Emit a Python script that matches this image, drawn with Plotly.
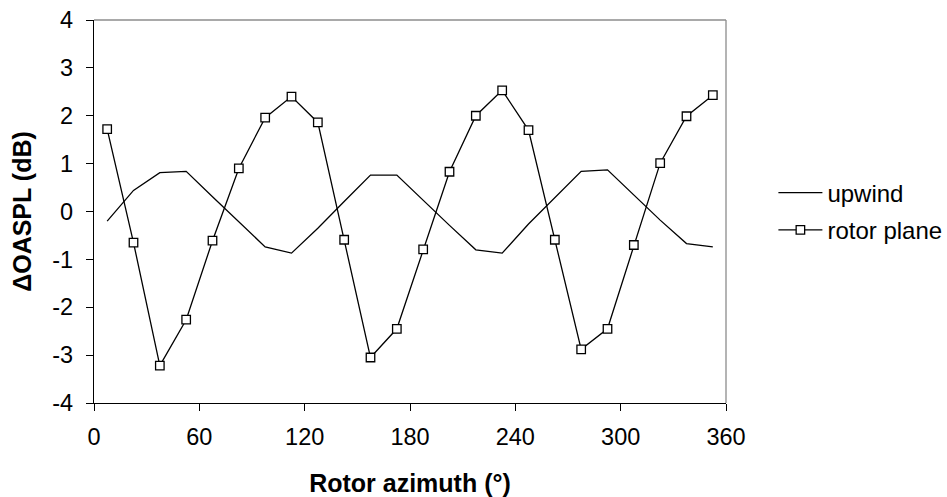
import plotly.graph_objects as go

# Rotor azimuth of each measurement bin (degrees)
azimuth = [7.5, 22.5, 37.5, 52.5, 67.5, 82.5, 97.5, 112.5, 127.5, 142.5, 157.5, 172.5,
           187.5, 202.5, 217.5, 232.5, 247.5, 262.5, 277.5, 292.5, 307.5, 322.5, 337.5, 352.5]

# Change in overall sound pressure level (dB)
upwind = [-0.20, 0.44, 0.81, 0.84, 0.31, -0.22, -0.74, -0.87, -0.35, 0.21, 0.76, 0.76,
          0.23, -0.29, -0.80, -0.87, -0.26, 0.30, 0.84, 0.87, 0.34, -0.18, -0.67, -0.74]
rotor_plane = [1.72, -0.65, -3.22, -2.26, -0.61, 0.90, 1.96, 2.40, 1.86, -0.59, -3.05, -2.45,
               -0.79, 0.83, 2.00, 2.53, 1.70, -0.59, -2.88, -2.45, -0.70, 1.01, 1.99, 2.43]

x_ticks = [0, 60, 120, 180, 240, 300, 360]
y_ticks = [-4, -3, -2, -1, 0, 1, 2, 3, 4]

FONT = "Liberation Sans, Arial, sans-serif"

fig = go.Figure()
fig.add_trace(go.Scatter(
    x=azimuth, y=upwind, name="upwind", mode="lines",
    line=dict(color="black", width=1.3), legendgroup="a",
))
fig.add_trace(go.Scatter(
    x=azimuth, y=rotor_plane, name="rotor plane", mode="lines+markers",
    line=dict(color="black", width=1.3),
    marker=dict(symbol="square", size=8.5, color="white",
                line=dict(color="black", width=1.3)),
    legendgroup="b",
))

axis_common = dict(
    showgrid=False, zeroline=False, showline=True, linecolor="black", linewidth=1.3,
    ticks="outside", ticklen=7, tickwidth=1.3, tickcolor="black",
    tickfont=dict(family=FONT, size=23.5, color="black"),
)

fig.update_xaxes(
    range=[0, 360], tickvals=x_ticks, ticktext=[str(v) for v in x_ticks],
    ticklabelstandoff=6,
    title=dict(text="<b>Rotor azimuth (°)</b>", font=dict(family=FONT, size=25, color="black"),
               standoff=27),
    **axis_common,
)
fig.update_yaxes(
    range=[-4, 4], tickvals=y_ticks, ticktext=[str(v) for v in y_ticks],
    ticklabelstandoff=8,
    title=dict(text="<b>ΔOASPL (dB)</b>", font=dict(family=FONT, size=25, color="black"),
               standoff=13),
    **axis_common,
)

# Grey frame on the top and right sides of the plot area
fig.add_shape(type="line", xref="x domain", yref="y domain", x0=0, x1=1, y0=1, y1=1,
              line=dict(color="#8c8c8c", width=1.3), layer="below")
fig.add_shape(type="line", xref="x domain", yref="y domain", x0=1, x1=1, y0=0, y1=1,
              line=dict(color="#8c8c8c", width=1.3), layer="below")

fig.update_layout(
    width=947, height=497,
    margin=dict(l=94, r=221, t=20, b=94, autoexpand=False),
    plot_bgcolor="white", paper_bgcolor="white",
    font=dict(family=FONT, size=24, color="black"),
    showlegend=True,
    legend=dict(x=1.075, y=0.5, xanchor="left", yanchor="middle",
                font=dict(family=FONT, size=24, color="black"),
                tracegroupgap=3, itemwidth=44, bgcolor="rgba(0,0,0,0)"),
)

fig.write_html("out.html")
